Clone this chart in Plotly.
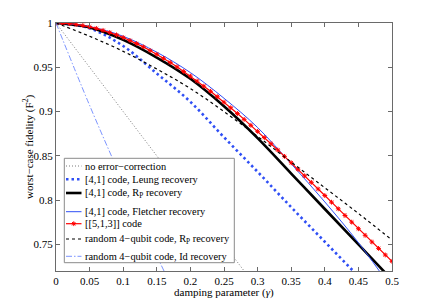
import plotly.graph_objects as go

# damping parameter grid (coarse) and fine grid for the [[5,1,3]] curve
gamma = [0.0, 0.05, 0.10, 0.15, 0.20, 0.25, 0.30, 0.35, 0.40, 0.45, 0.50]
gamma_fine = [i / 100 for i in range(51)]

no_ec = [1.0, 0.95, 0.90, 0.85, 0.80, 0.75, 0.70, 0.65, 0.60, 0.55, 0.50]
leung = [1.0, 0.994, 0.974, 0.943, 0.911, 0.871, 0.832, 0.792, 0.753, 0.714, 0.675]
rp_41 = [1.0, 0.995, 0.981, 0.961, 0.937, 0.906, 0.870, 0.830, 0.790, 0.750, 0.710]
fletcher = [1.0, 0.996, 0.985, 0.967, 0.944, 0.915, 0.882, 0.841, 0.798, 0.752, 0.700]
rand_rp = [1.0, 0.985, 0.968, 0.948, 0.926, 0.900, 0.872, 0.843, 0.814, 0.785, 0.755]
rand_id = [1.0, 0.907, 0.820, 0.737, 0.660, 0.585]
code_513 = [1.0, 0.9998, 0.9993, 0.9984, 0.9972, 0.9957, 0.9939, 0.9917, 0.9893, 0.9866,
            0.9836, 0.9803, 0.9768, 0.9730, 0.9689, 0.9647, 0.9601, 0.9554, 0.9505, 0.9453,
            0.9400, 0.9345, 0.9287, 0.9229, 0.9168, 0.9106, 0.9043, 0.8978, 0.8912, 0.8845,
            0.8777, 0.8707, 0.8637, 0.8566, 0.8494, 0.8422, 0.8348, 0.8275, 0.8201, 0.8126,
            0.8052, 0.7977, 0.7902, 0.7827, 0.7752, 0.7677, 0.7603, 0.7528, 0.7455, 0.7381,
            0.7309]

x_ticktext = ["0", "0.05", "0.1", "0.15", "0.2", "0.25", "0.3", "0.35", "0.4", "0.45", "0.5"]
y_tickvals = [0.75, 0.8, 0.85, 0.9, 0.95, 1.0]
y_ticktext = ["0.75", "0.8", "0.85", "0.9", "0.95", "1"]

legend_labels = [
    "no error\u2212correction",
    "[4,1] code, Leung recovery",
    "[4,1] code, R<sub>P</sub> recovery",
    "[4,1] code, Fletcher recovery",
    "[[5,1,3]] code",
    "random 4\u2212qubit code, R<sub>P</sub> recovery",
    "random 4\u2212qubit code, Id recovery",
]

FONT = "Liberation Serif"
BLUE = "#2f4ff5"
AX = "#6a6a6a"

styles = [
    dict(color="#7a7a7a", width=1, dash="1px,2px"),
    dict(color=BLUE, width=2.6, dash="2.5px,3px"),
    dict(color="black", width=2.6, dash="solid"),
    dict(color=BLUE, width=1.0, dash="solid"),
    dict(color="red", width=1.2, dash="solid"),
    dict(color="black", width=1.2, dash="3px,3px"),
    dict(color="#5a78ff", width=0.8, dash="6px,2px,1.5px,2px"),
]

series = [
    (gamma, no_ec, "linear"),
    (gamma, leung, "spline"),
    (gamma, rp_41, "spline"),
    (gamma, fletcher, "spline"),
    (gamma_fine, code_513, "linear"),
    (gamma, rand_rp, "spline"),
    (gamma[:len(rand_id)], rand_id, "spline"),
]

fig = go.Figure()
for i, (xs, ys, shape) in enumerate(series):
    st = styles[i]
    tr = dict(x=xs, y=ys, mode="lines", line=dict(color=st["color"], width=st["width"],
              dash=st["dash"], shape=shape), showlegend=False, hoverinfo="skip")
    if i == 4:
        tr["mode"] = "lines+markers"
        tr["marker"] = dict(symbol="asterisk-open", size=4, color="red",
                            line=dict(color="red", width=1))
    fig.add_trace(go.Scatter(**tr))

# ---- manual legend (box + samples on an overlay axis in paper units) ----
L, R, T, B = 56, 40, 23, 34
W, H = 432, 305
pw, ph = W - L - R, H - T - B
def px(xp):
    return (xp - L) / pw
def py(yp):
    return (H - B - yp) / ph

bx0, bx1, by0, by1 = px(64.3), px(234.3), py(158.3), py(262.7)
fig.add_trace(go.Scatter(x=[bx0, bx1, bx1, bx0, bx0], y=[by0, by0, by1, by1, by0],
                         xaxis="x2", yaxis="y2", mode="lines", fill="toself",
                         fillcolor="white", line=dict(color="#8a8a8a", width=1),
                         showlegend=False, hoverinfo="skip"))
rows = [166.0, 179.3, 193.0, 211.7, 223.7, 239.0, 256.3]
sx0, sx1 = px(66.0), px(81.5)
for i, r in enumerate(rows):
    st = styles[i]
    yy = py(r)
    fig.add_trace(go.Scatter(x=[sx0, sx1], y=[yy, yy], xaxis="x2", yaxis="y2", mode="lines",
                             line=dict(color=st["color"], width=st["width"], dash=st["dash"]),
                             showlegend=False, hoverinfo="skip"))
    if i == 4:
        fig.add_trace(go.Scatter(x=[(sx0 + sx1) / 2], y=[yy], xaxis="x2", yaxis="y2",
                                 mode="markers",
                                 marker=dict(symbol="asterisk-open", size=4, color="red",
                                             line=dict(color="red", width=1)),
                                 showlegend=False, hoverinfo="skip"))
    fig.add_annotation(x=px(82.5), y=yy, xref="paper", yref="paper", text=legend_labels[i],
                       showarrow=False, xanchor="left", yanchor="middle",
                       font=dict(family=FONT, size=10.4, color="black"))

# axis titles as annotations for exact placement
fig.add_annotation(x=0.5, y=py(285.0), xref="paper", yref="paper",
                   text="damping parameter (<i>\u03b3</i>)", showarrow=False,
                   xanchor="center", yanchor="top", borderpad=0,
                   font=dict(family=FONT, size=11))
fig.add_annotation(x=px(28), y=0.5, xref="paper", yref="paper", textangle=-90,
                   text="worst\u2212case fidelity (F<sup>2</sup>)", showarrow=False,
                   xanchor="center", yanchor="middle", font=dict(family=FONT, size=11))

fig.update_layout(
    width=W, height=H,
    margin=dict(l=L, r=R, t=T, b=B, autoexpand=False),
    paper_bgcolor="white", plot_bgcolor="white",
    font=dict(family=FONT, size=11, color="black"),
    xaxis=dict(range=[0, 0.5], tickvals=gamma, ticktext=x_ticktext, automargin=False,
               ticks="inside", ticklen=4, tickcolor=AX, showline=True, linecolor=AX, linewidth=1,
               mirror="ticks", showgrid=False, zeroline=False),
    yaxis=dict(range=[0.72, 1.0], tickvals=y_tickvals, ticktext=y_ticktext, automargin=False,
               ticks="inside", ticklen=4, tickcolor=AX, showline=True, linecolor=AX, linewidth=1,
               mirror="ticks", showgrid=False, zeroline=False),
    xaxis2=dict(overlaying="x", range=[0, 1], visible=False, fixedrange=True),
    yaxis2=dict(overlaying="y", range=[0, 1], visible=False, fixedrange=True),
)

fig.write_html("out.html", config={"displayModeBar": False},
               post_script="document.body.style.margin='0';document.body.style.overflow='hidden';")
